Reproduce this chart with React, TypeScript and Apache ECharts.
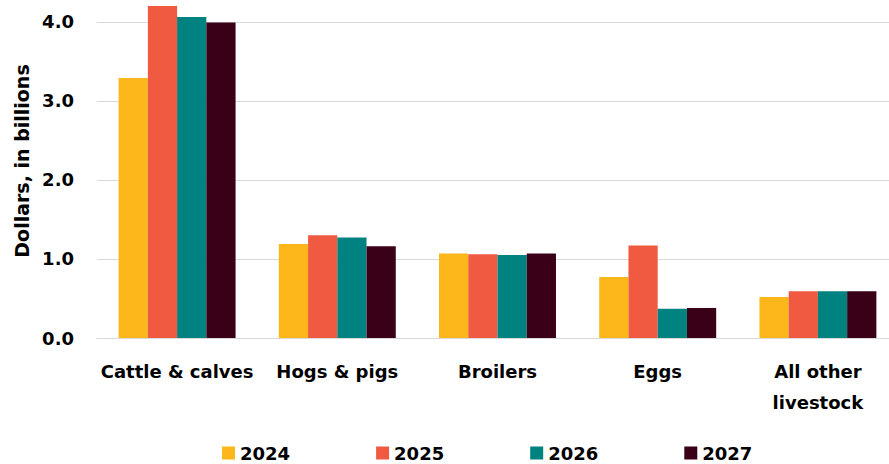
import React, { useEffect, useRef } from "react";
import * as echarts from "echarts";

const categories = ["Cattle & calves", "Hogs & pigs", "Broilers", "Eggs", "All other\nlivestock"];
const years = ["2024", "2025", "2026", "2027"];
const values2024 = [3.29, 1.19, 1.07, 0.77, 0.52];
const values2025 = [4.2, 1.3, 1.06, 1.17, 0.59];
const values2026 = [4.06, 1.27, 1.05, 0.37, 0.59];
const values2027 = [3.99, 1.16, 1.07, 0.38, 0.59];
const colors = ["#FDB71A", "#F05A40", "#008281", "#3A0018"];
const yTicks = [0, 1, 2, 3, 4];

const FONT = "DejaVu Sans";

export default function App() {
  const ref = useRef<HTMLDivElement>(null);
  useEffect(() => {
    document.body.style.margin = "0";
    document.body.style.overflow = "hidden";
    const chart = echarts.init(ref.current!, null, { renderer: "svg" });
    const seriesValues = [values2024, values2025, values2026, values2027];
    chart.setOption({
      animation: false,
      grid: { left: 97, top: 2, right: 0, bottom: 126, containLabel: false },
      legend: {
        data: years,
        left: 217,
        top: 439,
        itemWidth: 13,
        itemHeight: 13,
        itemGap: 86,
        icon: "rect",
        textStyle: { fontFamily: FONT, fontWeight: "bold", fontSize: 18, color: "#000" },
      },
      xAxis: {
        type: "category",
        data: categories,
        axisLine: { lineStyle: { color: "#d9d9d9", width: 1 } },
        axisTick: { show: false },
        axisLabel: {
          interval: 0,
          margin: 18,
          lineHeight: 31,
          fontFamily: FONT,
          fontWeight: "bold",
          fontSize: 18,
          color: "#000",
        },
      },
      yAxis: {
        type: "value",
        min: 0,
        max: 4.25,
        interval: 1,
        name: "Dollars, in billions",
        nameLocation: "middle",
        nameGap: 66,
        nameTextStyle: {
          fontFamily: FONT,
          fontWeight: "bold",
          fontSize: 19,
          color: "#000",
          padding: [0, 0, 0, 18],
        },
        axisLine: { show: false },
        axisTick: { show: false },
        axisLabel: {
          margin: 23,
          showMaxLabel: false,
          fontFamily: FONT,
          fontWeight: "bold",
          fontSize: 18,
          color: "#000",
          formatter: (v: number) => (yTicks.includes(v) ? v.toFixed(1) : ""),
        },
        splitLine: { show: true, showMaxLine: false, lineStyle: { color: "#d9d9d9", width: 1 } },
      },
      series: years.map((y, i) => ({
        name: y,
        type: "bar",
        data: seriesValues[i],
        barGap: "0%",
        barCategoryGap: "27%",
        itemStyle: { color: colors[i] },
      })),
    });
    return () => chart.dispose();
  }, []);
  return <div ref={ref} style={{ width: 898, height: 464 }} />;
}
